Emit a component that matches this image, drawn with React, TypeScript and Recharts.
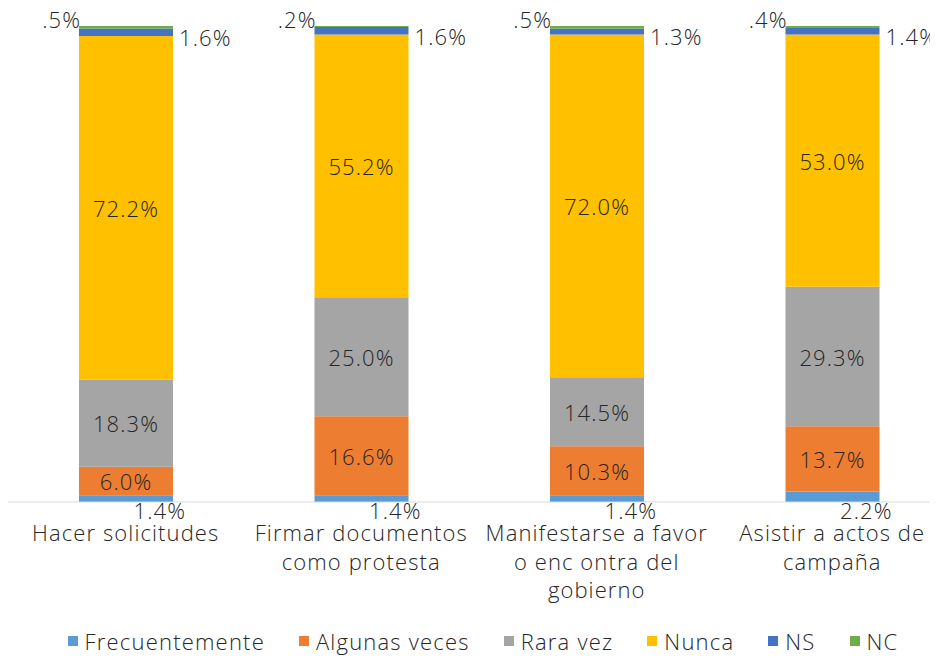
import React from "react"
import { Bar, BarChart, XAxis, YAxis, Legend, LabelList } from "recharts"

const categories = [
  "Hacer solicitudes",
  "Firmar documentos\ncomo protesta",
  "Manifestarse a favor\no enc ontra del\ngobierno",
  "Asistir a actos de\ncampaña",
]
const frecuentemente = [1.4, 1.4, 1.4, 2.2]
const algunasVeces = [6.0, 16.6, 10.3, 13.7]
const raraVez = [18.3, 25.0, 14.5, 29.3]
const nunca = [72.2, 55.2, 72.0, 53.0]
const ns = [1.6, 1.6, 1.3, 1.4]
const nc = [0.5, 0.2, 0.5, 0.4]

const series = [
  { key: "frecuentemente", name: "Frecuentemente", color: "#5B9BD5" },
  { key: "algunasVeces", name: "Algunas veces", color: "#ED7D31" },
  { key: "raraVez", name: "Rara vez", color: "#A5A5A5" },
  { key: "nunca", name: "Nunca", color: "#FFC000" },
  { key: "ns", name: "NS", color: "#4472C4" },
  { key: "nc", name: "NC", color: "#70AD47" },
]

const data = categories.map((name, i) => ({
  name,
  frecuentemente: frecuentemente[i],
  algunasVeces: algunasVeces[i],
  raraVez: raraVez[i],
  nunca: nunca[i],
  ns: ns[i],
  nc: nc[i],
}))

const FONT = "'Open Sans', sans-serif"
const TEXT = "#262626"
const LS = 1.1

const fmt = (v: number) => v.toFixed(1).replace(/^0/, "") + "%"

const txt = { fill: TEXT, fontSize: 22, fontFamily: FONT, fontWeight: 300, letterSpacing: LS }

const CenterLabel = (props: any) => {
  const { x, y, width, height, value } = props
  return (
    <text x={x + width / 2} y={y + height / 2} textAnchor="middle" dominantBaseline="central" {...txt}>
      {fmt(value)}
    </text>
  )
}

const BelowLabel = (props: any) => {
  const { x, y, width, height, value } = props
  return (
    <text x={x + width * 0.86} y={y + height + 8} textAnchor="middle" dominantBaseline="central" {...txt}>
      {fmt(value)}
    </text>
  )
}

const RightLabel = (props: any) => {
  const { x, y, width, height, value } = props
  return (
    <text x={x + width + 6} y={y + height / 2 + 5} textAnchor="start" dominantBaseline="central" {...txt}>
      {fmt(value)}
    </text>
  )
}

const LeftLabel = (props: any) => {
  const { x, y, value } = props
  return (
    <text x={x + 2} y={y - 7} textAnchor="end" dominantBaseline="central" {...txt}>
      {fmt(value)}
    </text>
  )
}

const labelFor: Record<string, any> = {
  frecuentemente: BelowLabel,
  algunasVeces: CenterLabel,
  raraVez: CenterLabel,
  nunca: CenterLabel,
  ns: RightLabel,
  nc: LeftLabel,
}

const CategoryTick = (props: any) => {
  const { x, y, payload } = props
  const lines = String(payload.value).split("\n")
  return (
    <text x={x} y={y} textAnchor="middle" {...txt}>
      {lines.map((line, i) => (
        <tspan key={i} x={x} dy={i === 0 ? 31 : 28.5}>
          {line}
        </tspan>
      ))}
    </text>
  )
}

const LegendContent = () => (
  <div style={{ height: 46, display: "flex", justifyContent: "center", alignItems: "flex-start",
    paddingTop: 19, boxSizing: "border-box", fontFamily: FONT, fontWeight: 300, fontSize: 22,
    letterSpacing: 1.2, color: TEXT, lineHeight: "20px", paddingLeft: 8 }}>
    {series.map((s, i) => (
      <div key={s.key} style={{ display: "flex", alignItems: "center", marginRight: i === series.length - 1 ? 0 : 34 }}>
        <span style={{ width: 10, height: 10, background: s.color, marginRight: 7, display: "inline-block" }} />
        <span>{s.name}</span>
      </div>
    ))}
  </div>
)

export default function App() {
  return (
    <div style={{ width: 930, height: 650, overflowX: "clip" as any }}>
      <style>{".recharts-surface { overflow: visible; }"}</style>
      <BarChart width={942} height={650} data={data} margin={{ top: 18, right: 0, left: 0, bottom: 0 }}>
        <XAxis dataKey="name" height={110} tickLine={false} axisLine={{ stroke: "#D9D9D9" }}
          tick={<CategoryTick />} interval={0} />
        <YAxis hide domain={[0, 100]} />
        <Legend verticalAlign="bottom" height={46} content={<LegendContent />} />
        {series.map((s) => (
          <Bar key={s.key} dataKey={s.key} name={s.name} stackId="a" fill={s.color} barSize={94}
            isAnimationActive={false}>
            <LabelList dataKey={s.key} content={labelFor[s.key]} />
          </Bar>
        ))}
      </BarChart>
    </div>
  )
}
